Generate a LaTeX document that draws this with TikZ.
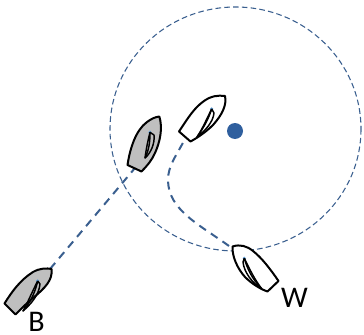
\documentclass[tikz,border=0pt]{standalone}
\usepackage{fontspec}
\setmainfont{Carlito}
\definecolor{trackblue}{HTML}{3A5F8F}
\definecolor{dotblue}{HTML}{2F5F9E}
\definecolor{mastblue}{HTML}{5B9BD5}
\definecolor{hullgray}{HTML}{BFBFBF}
\tikzset{
  px/.style={x=0.75pt,y=-0.75pt},
  zone/.style={draw=trackblue,line width=0.8pt,dash pattern=on 4.2pt off 2.4pt},
  track/.style={draw=trackblue,line width=1.5pt,dash pattern=on 6pt off 4.5pt},
  hull/.style={draw=black,line width=1.5pt,line join=round},
  sail/.style={draw=black,line width=1.1pt,line join=round},
  mastdot/.style={circle,fill=mastblue,inner sep=0pt,minimum size=2.6pt},
  buoydot/.style={circle,fill=dotblue,inner sep=0pt,minimum size=12pt},
  boatlabel/.style={inner sep=0pt,font=\fontsize{22.5pt}{24pt}\selectfont}
}
\begin{document}
\begin{tikzpicture}[px]
\useasboundingbox (0,0) rectangle (364,335);
\node[buoydot] (buoy) at (235,131) {};
\draw[zone] (235.5,129) ellipse [x radius=125.5,y radius=122];
% tracks
\coordinate (bbow) at (50,269);
\coordinate (gstern) at (135,168);
\coordinate (wbow) at (229,246);
\coordinate (astern) at (186,137);
\draw[track] (bbow) -- (gstern);
\draw[track] (wbow) .. controls (200,225) and (168,210) .. (168,180) .. controls (168,165) and (177,155) .. (astern);
% white boat, top
\draw[hull,fill=white] (179,131.5) .. controls (188,118) and (194,108) .. (204,101) .. controls (211,96) and (218,95) .. (225,96) .. controls (227,105) and (222,115) .. (213,125) .. controls (206,132) and (197,138) .. (190.5,141.5) -- cycle;
\node[mastdot] (amast) at (211.7,109) {};
\draw[sail] (amast.center) .. controls (207,118) and (203,128) .. (197,137) .. controls (206,130) and (213,122) .. (214,113) -- (amast.center);
\draw[sail] (amast.center) .. controls (208,120) and (204,127) .. (197,137);
% gray boat
\draw[hull,fill=hullgray] (127.5,165) .. controls (130,148) and (136,130) .. (147,122) .. controls (151,119) and (155,117) .. (159.3,116.5) .. controls (163,128) and (160,142) .. (155,153) .. controls (152,160) and (147,166) .. (141.5,171.5) -- cycle;
\node[mastdot] (gmast) at (150,132.3) {};
\draw[sail] (gmast.center) .. controls (148,140) and (146,150) .. (145,158) .. controls (151,153) and (155,143) .. (154,135) -- (gmast.center);
\draw[sail] (gmast.center) .. controls (150,142) and (149,150) .. (145,158);
% gray boat B
\draw[hull,fill=hullgray] (4.5,303.5) .. controls (11,293) and (20,280) .. (33,272) .. controls (40,268) and (47,268) .. (51.5,269) .. controls (53,280) and (45,288) .. (33,298) .. controls (28,302) and (22,308) .. (15.5,314.5) -- cycle;
\node[mastdot] (bmast) at (37.7,281) {};
\draw[sail] (bmast.center) .. controls (32,292) and (28,302) .. (23,311) .. controls (31,304) and (39,295) .. (40,284) -- (bmast.center);
\draw[sail] (bmast.center) .. controls (35,293) and (30,303) .. (23,311);
% white boat W
\draw[hull,fill=white] (232.5,246.5) .. controls (240,244) and (247,246) .. (253,251) .. controls (262,258) and (271,270) .. (278.5,281) -- (267.5,291.5) .. controls (260,289) and (251,283) .. (245,277) .. controls (237,268) and (232,256) .. (232.5,246.5) -- cycle;
\node[mastdot] (wmast) at (244.3,258.3) {};
\draw[sail] (wmast.center) .. controls (250,270) and (255,280) .. (261.5,288.5) .. controls (252,283) and (244,272) .. (243,262) -- (wmast.center);
\draw[sail] (wmast.center) .. controls (247,268) and (252,279) .. (261.5,288.5);
% labels
\node[boatlabel] (wlabel) at (294.5,298) {W};
\node[boatlabel] (blabel) at (36.5,322) {B};
\end{tikzpicture}
\end{document}
